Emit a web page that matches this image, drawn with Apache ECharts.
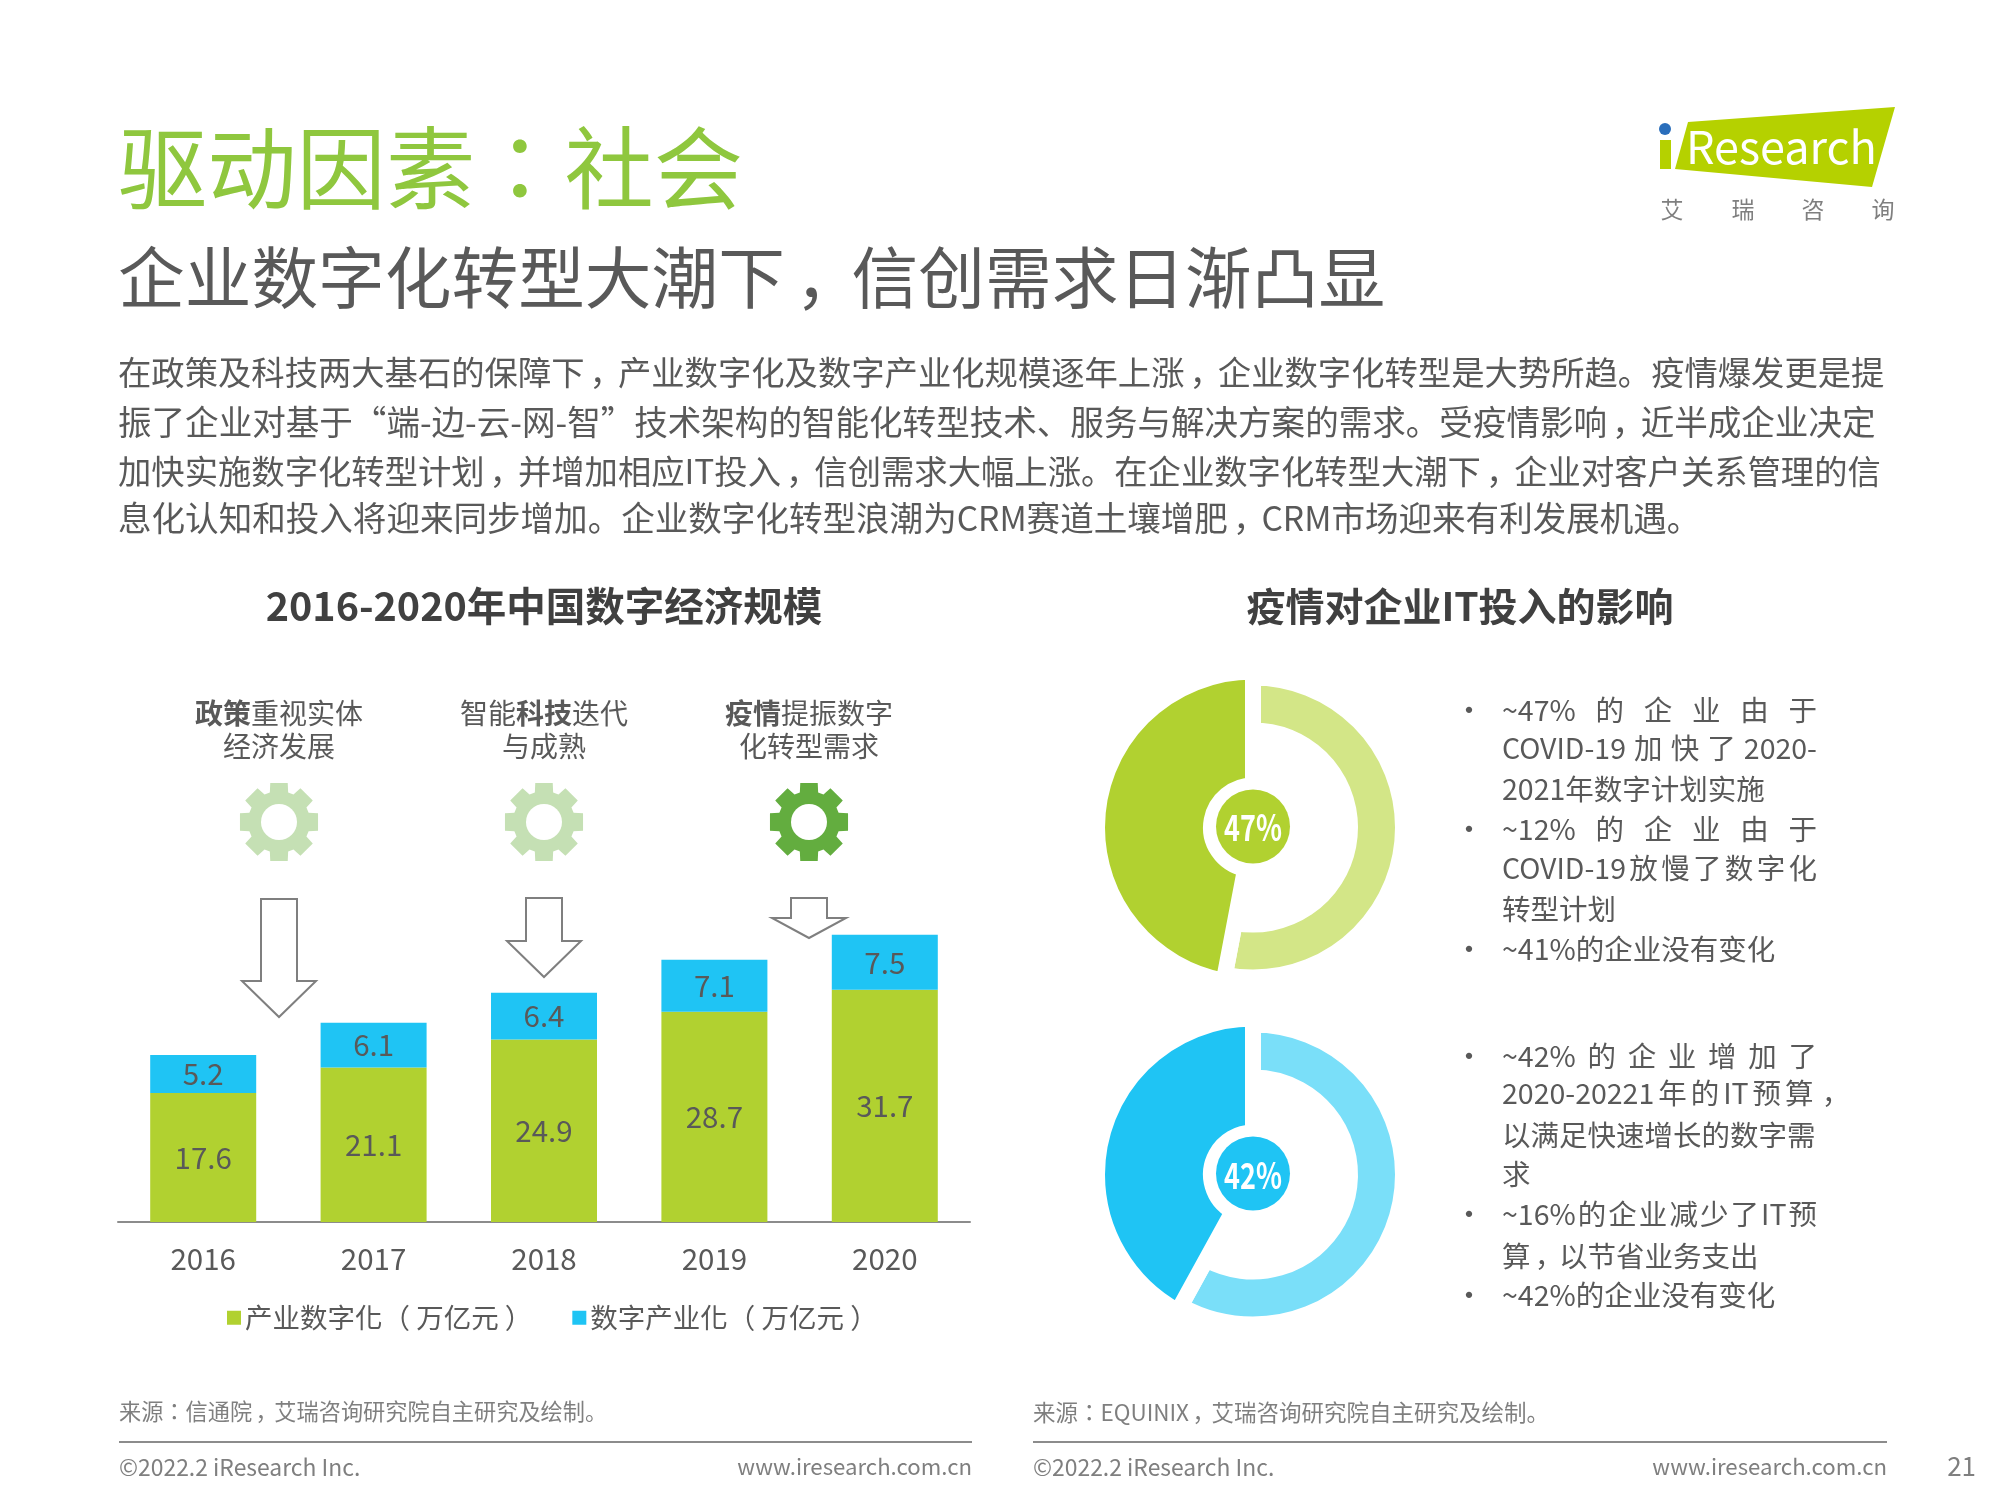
<!DOCTYPE html>
<html>
<head>
<meta charset="utf-8">
<title>驱动因素：社会</title>
<style>
  html, body { margin: 0; padding: 0; background: #fff; }
  #main { width: 2000px; height: 1500px; }
</style>
<script src="https://cdn.jsdelivr.net/npm/echarts@6/dist/echarts.min.js"></script>
</head>
<body>
<div id="main"></div>
<script>
// chart data
var years = ['2016', '2017', '2018', '2019', '2020'];
var industryDigital = [17.6, 21.1, 24.9, 28.7, 31.7];
var digitalIndustry = [5.2, 6.1, 6.4, 7.1, 7.5];
var legendNames = ['产业数字化（万亿元）', '数字产业化（万亿元）'];
var planShare = [47, 53];
var budgetShare = [42, 58];

var paragraph = [
    '在政策及科技两大基石的保障下，产业数字化及数字产业化规模逐年上涨，企业数字化转型是大势所趋。疫情爆发更是提',
    '振了企业对基于“端-边-云-网-智”技术架构的智能化转型技术、服务与解决方案的需求。受疫情影响，近半成企业决定',
    '加快实施数字化转型计划，并增加相应IT投入，信创需求大幅上涨。在企业数字化转型大潮下，企业对客户关系管理的信',
    '息化认知和投入将迎来同步增加。企业数字化转型浪潮为CRM赛道土壤增肥，CRM市场迎来有利发展机遇。'
];
var driverNotes = [
    ['{b|政策}重视实体', '经济发展'],
    ['智能{b|科技}迭代', '与成熟'],
    ['{b|疫情}提振数字', '化转型需求']
];

var FONT = '"Noto Sans CJK SC", "Noto Sans", sans-serif';
var FONT_TC = '"Noto Sans CJK TC", "Noto Sans CJK SC", sans-serif'; // centred punctuation
var GREEN = '#b1d130', LIGHT_GREEN = '#d3e687', BLUE = '#1fc4f4', LIGHT_BLUE = '#7adff9';
var TEXT = '#595959', MUTED = '#7f7f7f';

var measureCtx = document.createElement('canvas').getContext('2d');
var elements = [];

function addText(text, x, y, size, color, opts) {
    opts = opts || {};
    var rich = Object.assign({
        p: {fontFamily: FONT_TC, fontSize: size, fill: color},
        // comma: low like the simplified glyph, but moved toward the middle of its cell
        c: {fontFamily: FONT, fontSize: size, fill: color, width: size * 0.85, padding: [0, 0, 0, size * 0.15]}
    }, opts.rich);
    elements.push({
        type: 'text', x: x, y: y, z: 10, silent: true,
        style: {
            text: text.replace(/[：（）]/g, '{p|$&}').replace(/，/g, '{c|，}'),
            fill: color, fontSize: size, fontFamily: FONT,
            fontWeight: opts.weight || 'normal',
            align: opts.align || 'left', verticalAlign: 'middle',
            rich: rich
        }
    });
}

// spread the tokens of a justified line between x0 and x1
function addJustified(tokens, x0, x1, y, size) {
    measureCtx.font = size + 'px ' + FONT;
    var total = 0;
    var widths = tokens.map(function (t) {
        var w = measureCtx.measureText(t).width;
        total += w;
        return w;
    });
    var gap = (x1 - x0 - total) / (tokens.length - 1);
    var x = x0;
    tokens.forEach(function (t, i) {
        addText(t, x, y, size, TEXT);
        x += widths[i] + gap;
    });
}

function addGear(cx, cy, color) {
    var points = [];
    for (var i = 0; i < 8; i++) {
        var a = i * Math.PI / 4 - Math.PI / 2;
        [[31, -0.30], [40, -0.22], [40, 0.22], [31, 0.30]].forEach(function (p) {
            points.push([cx + p[0] * Math.cos(a + p[1]), cy + p[0] * Math.sin(a + p[1])]);
        });
    }
    elements.push({type: 'polygon', silent: true, shape: {points: points}, style: {fill: color}});
    elements.push({type: 'circle', silent: true, shape: {cx: cx, cy: cy, r: 18}, style: {fill: '#fff'}});
}

function addArrow(cx, top, shoulder, tip) {
    elements.push({
        type: 'polygon', silent: true, z: 5,
        shape: {points: [[cx - 18, top], [cx + 18, top], [cx + 18, shoulder], [cx + 37, shoulder],
            [cx, tip], [cx - 37, shoulder], [cx - 18, shoulder]]},
        style: {fill: '#fff', stroke: '#7f7f7f', lineWidth: 2}
    });
}

function addRule(x0, x1, y) {
    elements.push({type: 'line', silent: true, shape: {x1: x0, y1: y, x2: x1, y2: y},
        style: {stroke: '#8c8c8c', lineWidth: 2}});
}

// narrow white percentage in the middle of a donut
function addDonutLabel(value, cy) {
    elements.push({
        type: 'text', x: 1253, y: cy, z: 20, silent: true, scaleX: 0.75,
        style: {
            text: value + '%', fill: '#fff', fontSize: 36, fontFamily: FONT, fontWeight: 'bold',
            align: 'center', verticalAlign: 'middle'
        }
    });
}

// headings and paragraph
addText('驱动因素：社会', 118, 168, 89.3, '#8fc73e');
addText('企业数字化转型大潮下，信创需求日渐凸显', 118, 278, 66.7, TEXT);
[[372, 33.35], [422, 33.56], [471, 33.35], [518, 33.55]].forEach(function (line, i) {
    addText(paragraph[i], 118, line[0], line[1], TEXT);
});
addText('2016-2020年中国数字经济规模', 544, 606, 39.5, '#404040', {align: 'center', weight: 'bold'});
addText('疫情对企业IT投入的影响', 1460, 606, 39, '#404040', {align: 'center', weight: 'bold'});

// logo
elements.push({type: 'polygon', silent: true, shape: {points: [[1688, 122], [1895, 107], [1872, 187], [1675, 169]]},
    style: {fill: '#b5d100'}});
elements.push({type: 'rect', silent: true, shape: {x: 1660, y: 140, width: 11, height: 29}, style: {fill: '#b5d100'}});
elements.push({type: 'circle', silent: true, shape: {cx: 1665, cy: 129, r: 6}, style: {fill: '#2a6ebb'}});
addText('Research', 1686, 147, 45, '#fff');
['艾', '瑞', '咨', '询'].forEach(function (c, i) {
    addText(c, [1672, 1743, 1813, 1883][i], 209, 23, MUTED, {align: 'center'});
});

// drivers above the bars
var richBold = {b: {fontWeight: 'bold', fontSize: 28, fontFamily: FONT, fill: TEXT}};
[279, 544, 809].forEach(function (cx, i) {
    addText(driverNotes[i][0], cx, 713, 28, TEXT, {align: 'center', rich: richBold});
    addText(driverNotes[i][1], cx, 746, 28, TEXT, {align: 'center'});
    addGear(cx, 822, i === 2 ? '#63ad3f' : '#c5e0b4');
});
addArrow(279, 899, 981, 1017);
addArrow(544, 898, 941, 977);
addArrow(809, 898, 918, 938);

// bullets
[710, 829, 949, 1056, 1214, 1295].forEach(function (y) {
    addText('•', 1469, y, 30, TEXT, {align: 'center'});
});
addJustified(['~47%', '的', '企', '业', '由', '于'], 1502, 1817, 710, 28.5);
addJustified(['COVID-19', '加', '快', '了', '2020-'], 1502, 1817, 748, 28.5);
addText('2021年数字计划实施', 1502, 789, 28.5, TEXT);
addJustified(['~12%', '的', '企', '业', '由', '于'], 1502, 1817, 829, 28.5);
addJustified(['COVID-19', '放', '慢', '了', '数', '字', '化'], 1502, 1817, 868, 28.5);
addText('转型计划', 1502, 909, 28.5, TEXT);
addText('~41%的企业没有变化', 1502, 949, 28.5, TEXT);
addJustified(['~42%', '的', '企', '业', '增', '加', '了'], 1502, 1817, 1056, 28.5);
addJustified(['2020-20221', '年', '的', 'IT', '预', '算', '，'], 1502, 1846, 1093, 28.5);
addText('以满足快速增长的数字需', 1502, 1135, 28.5, TEXT);
addText('求', 1502, 1174, 28.5, TEXT);
addJustified(['~16%', '的', '企', '业', '减', '少', '了', 'IT', '预'], 1502, 1817, 1214, 28.5);
addText('算，以节省业务支出', 1502, 1256, 28.5, TEXT);
addText('~42%的企业没有变化', 1502, 1295, 28.5, TEXT);

// footer
addText('来源：信通院，艾瑞咨询研究院自主研究及绘制。', 119, 1412, 22.2, MUTED);
addText('来源：EQUINIX，艾瑞咨询研究院自主研究及绘制。', 1033, 1412, 22.5, MUTED);
addRule(119, 972, 1442);
addRule(1033, 1887, 1442);
addText('©2022.2 iResearch Inc.', 119, 1467, 22.9, MUTED);
addText('www.iresearch.com.cn', 972, 1467, 22.2, MUTED, {align: 'right'});
addText('©2022.2 iResearch Inc.', 1033, 1467, 22.9, MUTED);
addText('www.iresearch.com.cn', 1887, 1467, 22.2, MUTED, {align: 'right'});
addText('21', 1976, 1466, 26, MUTED, {align: 'right'});

addDonutLabel(planShare[0], 827);
addDonutLabel(budgetShare[0], 1175);

function barSeries(name, values, color) {
    return {
        name: name, type: 'bar', stack: 'total', barWidth: 106, data: values,
        itemStyle: {color: color},
        label: {show: true, position: 'inside', color: TEXT, fontSize: 29.5, fontFamily: FONT}
    };
}

// one donut: light ring, dark sector, centre dot. The white border opens the gap between them.
function donut(cy, share, dark, light) {
    var base = {type: 'pie', center: [1253, cy], silent: true, label: {show: false}, labelLine: {show: false}};
    var hidden = {color: 'rgba(0,0,0,0)', borderWidth: 0};
    return [
        Object.assign({}, base, {
            radius: [97, 150], startAngle: 90,
            data: [
                {value: share[1], itemStyle: {color: light, borderColor: '#fff', borderWidth: 16}},
                {value: share[0], itemStyle: hidden}
            ]
        }),
        Object.assign({}, base, {
            radius: [42, 156], startAngle: 90, clockwise: false,
            data: [
                {value: share[0], itemStyle: {color: dark, borderColor: '#fff', borderWidth: 16}},
                {value: share[1], itemStyle: hidden}
            ]
        }),
        Object.assign({}, base, {
            radius: [0, 37], center: [1253, cy - 1],
            data: [{value: share[0], itemStyle: {color: dark}}]
        })
    ];
}

var chart = echarts.init(document.getElementById('main'));
chart.setOption({
    animation: false,
    backgroundColor: '#fff',
    textStyle: {fontFamily: FONT},
    grid: {left: 118, top: 929, width: 852, height: 293},
    legend: {
        left: 222, top: 1299, itemWidth: 14, itemHeight: 14, itemGap: 40,
        icon: 'rect', selectedMode: false, data: legendNames,
        formatter: function (name) {
            return name.replace('（', '（ ').replace('）', ' ）');
        },
        textStyle: {color: TEXT, fontSize: 27.5, fontFamily: FONT_TC, padding: [0, 0, 0, -1]}
    },
    xAxis: {
        type: 'category', data: years,
        axisLine: {lineStyle: {color: '#8c8c8c', width: 2}},
        axisTick: {show: false},
        axisLabel: {color: TEXT, fontSize: 29.5, margin: 22, fontFamily: FONT}
    },
    yAxis: {type: 'value', min: 0, max: 40, show: false},
    graphic: {elements: elements},
    series: [
        barSeries(legendNames[0], industryDigital, GREEN),
        barSeries(legendNames[1], digitalIndustry, BLUE)
    ].concat(
        donut(827.5, planShare, GREEN, LIGHT_GREEN),
        donut(1174.5, budgetShare, BLUE, LIGHT_BLUE)
    )
});
</script>
</body>
</html>
